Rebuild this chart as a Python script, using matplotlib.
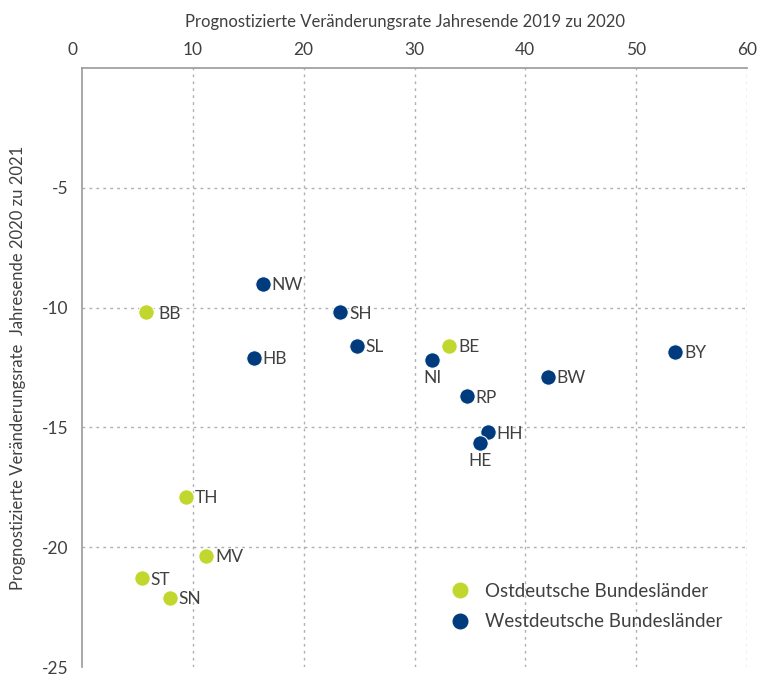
import matplotlib
matplotlib.use("Agg")
import matplotlib.pyplot as plt
import matplotlib.transforms as mtransforms
from matplotlib.lines import Line2D

plt.rcParams['font.family'] = ['Lato', 'DejaVu Sans']

# ---- data ----
states = ["NW", "BB", "SH", "SL", "HB", "BE", "NI", "BW", "BY", "RP", "HH", "HE",
          "TH", "MV", "ST", "SN"]
change_2019_2020 = [16.3, 5.8, 23.3, 24.8, 15.5, 33.1, 31.6, 42.0, 53.5, 34.7, 36.6, 35.9,
                    9.4, 11.2, 5.4, 7.9]
change_2020_2021 = [-9.0, -10.2, -10.2, -11.6, -12.1, -11.6, -12.2, -12.9, -11.85, -13.7, -15.2, -15.65,
                    -17.9, -20.35, -21.3, -22.1]
region = ["W", "O", "W", "W", "W", "O", "W", "W", "W", "W", "W", "W",
          "O", "O", "O", "O"]
legend_labels = {"O": "Ostdeutsche Bundesländer", "W": "Westdeutsche Bundesländer"}
x_ticks = [0, 10, 20, 30, 40, 50, 60]
y_ticks = [-5, -10, -15, -20, -25]
x_title = "Prognostizierte Veränderungsrate Jahresende 2019 zu 2020"
y_title = "Prognostizierte Veränderungsrate  Jahresende 2020 zu 2021"

# ---- style ----
colors = {"O": "#c2d72e", "W": "#003c7d"}
text_color = "#404040"
grid_color = "#b0b0b0"
label_below = {"NI", "HE"}
label_extra = {"BB": 3}

fig = plt.figure(figsize=(7.57, 6.75), dpi=100)
ax = fig.add_axes([82/757, 1-667/675, (747-82)/757, (667-68)/675])

ax.set_xlim(0, 60)
ax.set_ylim(-25, 0)

# grid
for xv in x_ticks[1:]:
    ax.axvline(xv, color=grid_color, lw=1, ls=(0, (2, 3)), zorder=0)
for yv in y_ticks[:-1]:
    ax.axhline(yv, color=grid_color, lw=1, ls=(0, (2, 3)), zorder=0)

for key in ["O", "W"]:
    xs = [x for x, r in zip(change_2019_2020, region) if r == key]
    ys = [y for y, r in zip(change_2020_2021, region) if r == key]
    ax.scatter(xs, ys, s=125, color=colors[key], edgecolor="white", linewidth=0.8,
               zorder=3, clip_on=False)

for name, x, y in zip(states, change_2019_2020, change_2020_2021):
    if name in label_below:
        ax.annotate(name, (x, y), xytext=(0, -13), textcoords="offset points",
                    ha="center", va="center", fontsize=12.5, color=text_color)
    else:
        dx = 6.5 + label_extra.get(name, 0) * 0.72
        ax.annotate(name, (x, y), xytext=(dx, -1), textcoords="offset points",
                    ha="left", va="center", fontsize=12.5, color=text_color)

# spines
for s in ["right", "bottom"]:
    ax.spines[s].set_visible(False)
for s in ["top", "left"]:
    ax.spines[s].set_color("#999999")
    ax.spines[s].set_linewidth(1.2)

ax.xaxis.tick_top()
ax.set_xticks(x_ticks)
ax.set_xticklabels([str(v) for v in x_ticks])
ax.set_yticks(y_ticks)
ax.set_yticklabels([str(v) for v in y_ticks])
ax.tick_params(axis="both", length=0, labelsize=12.5, labelcolor=text_color)
ax.tick_params(axis="x", pad=7)
ax.tick_params(axis="y", pad=10)

# shift first x tick label left like the reference
lbl0 = ax.get_xticklabels()[0]
lbl0.set_transform(lbl0.get_transform() + mtransforms.ScaledTranslation(-10/100, 0, fig.dpi_scale_trans))

ax.xaxis.set_label_position("top")
ax.set_xlabel(x_title, fontsize=12, color=text_color, labelpad=11)
ax.xaxis.label.set_x(0.486)
ax.set_ylabel(y_title, fontsize=12, color=text_color, labelpad=11)

handles = [Line2D([], [], marker="o", ls="", markersize=10.5, color=colors[k]) for k in ["O", "W"]]
ax.legend(handles, [legend_labels[k] for k in ["O", "W"]], loc="lower right",
          bbox_to_anchor=(0.988, 0.033), frameon=False, fontsize=13.5,
          labelcolor=text_color, handletextpad=0.3, labelspacing=0.72,
          borderpad=0.4)

fig.savefig("out.png", dpi=100)
